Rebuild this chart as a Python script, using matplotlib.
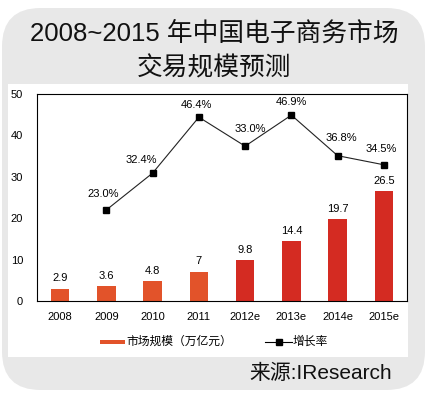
import matplotlib
matplotlib.use("Agg")
import matplotlib.pyplot as plt
from matplotlib.patches import FancyBboxPatch, Rectangle
from matplotlib.lines import Line2D

plt.rcParams['font.family'] = ['Liberation Sans', 'Noto Sans CJK SC', 'DejaVu Sans']

years = ['2008', '2009', '2010', '2011', '2012e', '2013e', '2014e', '2015e']
market_size = [2.9, 3.6, 4.8, 7, 9.8, 14.4, 19.7, 26.5]
size_labels = ['2.9', '3.6', '4.8', '7', '9.8', '14.4', '19.7', '26.5']
growth_years = ['2009', '2010', '2011', '2012e', '2013e', '2014e', '2015e']
growth_pos = [22.0, 30.9, 44.4, 37.4, 44.9, 35.1, 32.9]
growth_labels = ['23.0%', '32.4%', '46.4%', '33.0%', '46.9%', '36.8%', '34.5%']
y_ticks = [0, 10, 20, 30, 40, 50]

W, H = 429, 395
fig = plt.figure(figsize=(W / 100, H / 100), dpi=100)
fig.patch.set_facecolor('white')

def fx(px):
    return px / W

def fy(py):
    return 1 - py / H

# gray rounded frame and white inner panel (behind the axes)
frame = FancyBboxPatch((fx(2), fy(390)), fx(423), (390 - 8) / H,
                       boxstyle="round,pad=0,rounding_size=0.09",
                       transform=fig.transFigure, facecolor='#e8e8e8',
                       edgecolor='none', mutation_aspect=W / H, zorder=-2)
fig.patches.append(frame)
fig.patches.append(Rectangle((fx(8), fy(357)), fx(400), (357 - 84) / H,
                             transform=fig.transFigure, facecolor='white',
                             edgecolor='none', zorder=-1))

fig.text(0.5, fy(34), '2008~2015 年中国电子商务市场', ha='center', va='center',
         fontsize=18.5, color='#111111')
fig.text(0.5, fy(68), '交易规模预测', ha='center', va='center',
         fontsize=18.5, color='#111111')

ax = fig.add_axes([fx(37), fy(301), fx(407 - 37), (301 - 94) / H])
ax.set_facecolor('white')

x = list(range(len(years)))
colors = ['#e2532a'] * 4 + ['#d42b22'] * 4
ax.bar(x, market_size, width=0.4, color=colors, zorder=2)
for xi, v, lab in zip(x, market_size, size_labels):
    ax.annotate(lab, (xi, v), xytext=(0, 4), textcoords='offset points',
                ha='center', va='bottom', fontsize=8)

gx = [years.index(y) for y in growth_years]
ax.plot(gx, growth_pos, color='#222222', lw=0.8, marker='s', markersize=4.5,
        markerfacecolor='black', markeredgecolor='black', zorder=3)
offsets = [(-2, 8), (-8, 6), (-2, 5), (4, 9), (0, 6), (3, 9), (-2, 8)]
for xi, v, lab, off in zip(gx, growth_pos, growth_labels, offsets):
    ax.annotate(lab, (xi, v), xytext=off, textcoords='offset points',
                ha='center', va='bottom', fontsize=8)

ax.set_xlim(-0.5, 7.5)
ax.set_ylim(0, 50)
ax.set_xticks(x)
ax.set_xticklabels(years, fontsize=8)
ax.set_yticks(y_ticks)
ax.set_yticklabels([str(t) for t in y_ticks], fontsize=8)
ax.tick_params(axis='x', length=0, pad=8)
ax.tick_params(axis='y', length=0, pad=10)
for s in ax.spines.values():
    s.set_color('black')
    s.set_linewidth(0.8)

# legend
fig.patches.append(Rectangle((fx(100), fy(344)), fx(25), 4 / H,
                             transform=fig.transFigure, facecolor='#e2532a',
                             edgecolor='none'))
fig.text(fx(126), fy(342), '市场规模（万亿元）', ha='left', va='center', fontsize=8.5)
fig.lines.append(Line2D([fx(265), fx(292)], [fy(342), fy(342)],
                        transform=fig.transFigure, color='black', lw=0.8))
fig.lines.append(Line2D([fx(278.5)], [fy(342)], transform=fig.transFigure,
                        color='black', marker='s', markersize=4.5, lw=0))
fig.text(fx(293), fy(342), '增长率', ha='left', va='center', fontsize=8.5)

fig.text(fx(392), fy(373), '来源:IResearch', ha='right', va='center', fontsize=15,
         color='#111111')

fig.savefig('out.png', dpi=100)
